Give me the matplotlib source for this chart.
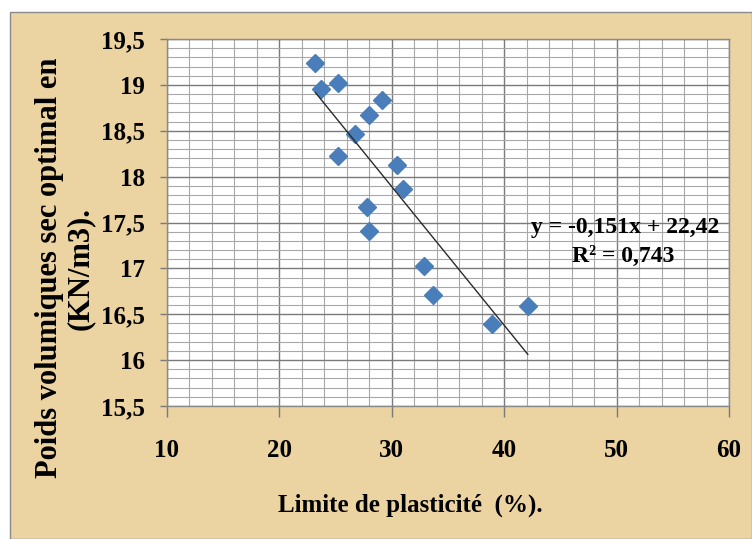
import matplotlib
matplotlib.use("Agg")
import matplotlib.pyplot as plt
from matplotlib.patches import Rectangle
from matplotlib.ticker import MultipleLocator, FuncFormatter
import numpy as np

# Plasticity limit (%) and optimum dry unit weight (kN/m3)
limite_plasticite = [23.2, 23.7, 25.2, 26.7, 25.2, 28.0, 29.1, 27.8, 28.0,
                     30.5, 31.0, 32.9, 33.7, 38.9, 42.1]
poids_volumique = [19.24, 18.95, 19.02, 18.46, 18.23, 18.67, 18.83, 17.67, 17.41,
                   18.13, 17.87, 17.03, 16.71, 16.39, 16.59]

# Linear trend as reported on the chart
pente = -0.151
ordonnee = 22.42
r2 = 0.743

W, H = 752, 539
fig = plt.figure(figsize=(W / 100, H / 100), dpi=100)
fig.patch.set_facecolor("white")

# Papyrus-coloured chart area with a thin border
papyrus = "#EBD3A2"
fig.patches.append(Rectangle((10 / W, 0), 1 - 10 / W, (H - 12) / H,
                             transform=fig.transFigure, facecolor=papyrus,
                             edgecolor="#8a8a8a", linewidth=1.0, zorder=0))

ax = fig.add_axes([167 / W, 1 - 406 / H, (729 - 167) / W, (406 - 39) / H])
ax.set_zorder(2)
ax.set_facecolor("white")
ax.set_xlim(10, 60)
ax.set_ylim(15.5, 19.5)

ax.xaxis.set_major_locator(MultipleLocator(10))
ax.xaxis.set_minor_locator(MultipleLocator(2))
ax.yaxis.set_major_locator(MultipleLocator(0.5))
ax.yaxis.set_minor_locator(MultipleLocator(0.1))

ax.grid(which="major", color="#7a7a7a", linewidth=1.0)
ax.grid(which="minor", color="#a8a8a8", linewidth=0.8)
ax.set_axisbelow(True)

for s in ax.spines.values():
    s.set_color("#8a8a8a")
    s.set_linewidth(1.0)

fmt = FuncFormatter(lambda v, p: ("%g" % v).replace(".", ","))
ax.yaxis.set_major_formatter(fmt)
ax.xaxis.set_major_formatter(fmt)

serif = ["Liberation Serif", "DejaVu Serif"]
ax.tick_params(axis="x", which="major", length=8, width=1, color="#7a7a7a",
               direction="out", pad=16)
ax.tick_params(axis="y", which="major", length=5, width=1, color="#7a7a7a",
               direction="out", pad=11)
ax.tick_params(which="minor", length=0)
for lab in ax.get_xticklabels() + ax.get_yticklabels():
    lab.set_fontfamily(serif)
    lab.set_fontweight("bold")
    lab.set_fontsize(18)

# Data points
ax.plot(limite_plasticite, poids_volumique, linestyle="none", marker="D",
        markersize=9.5, color="#4A7EBB", zorder=3, clip_on=False)

# Trend line over the data range
xt = np.array([min(limite_plasticite), max(limite_plasticite)])
ax.plot(xt, pente * xt + ordonnee, color="#2b2b2b", linewidth=1.0, zorder=4)

eq = "y = %sx + %s" % (("%.3f" % pente).replace(".", ","),
                       ("%.2f" % ordonnee).replace(".", ","))
ax.text(50.8, 17.45, eq, fontfamily=serif, fontweight="bold", fontsize=17,
        ha="center", va="center", zorder=5)
ax.text(50.6, 17.13, "R² = " + ("%.3f" % r2).replace(".", ","),
        fontfamily=serif, fontweight="bold", fontsize=17,
        ha="center", va="center", zorder=5)

# Axis titles
fig.text(410 / W, 1 - 505 / H, "Limite de plasticité  (%).",
         fontfamily=serif, fontweight="bold", fontsize=18,
         ha="center", va="center")
fig.text(65 / W, 1 - 268 / H, "Poids volumiques sec optimal en\n(KN/m3).",
         fontfamily=serif, fontweight="bold", fontsize=22, rotation=90,
         ha="center", va="center", multialignment="center", linespacing=1.05)

fig.savefig("out.png", dpi=100, facecolor=fig.get_facecolor())
